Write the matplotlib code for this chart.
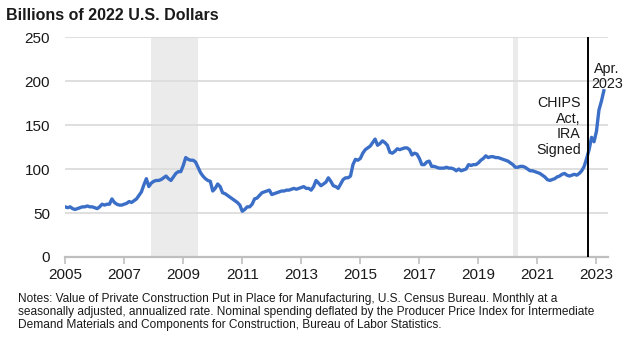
import matplotlib
matplotlib.use("Agg")
import matplotlib.pyplot as plt
import numpy as np

plt.rcParams['font.family'] = ['Liberation Sans', 'DejaVu Sans']

start_year = 2005
values = [
    # 2005
    57, 56, 57, 55, 54, 55, 56, 57, 57, 58, 57, 57,
    # 2006
    56, 55, 57, 60, 59, 60, 60, 66, 62, 60, 59, 59,
    # 2007
    60, 61, 63, 62, 64, 66, 70, 74, 82, 89, 80, 84,
    # 2008
    86, 87, 87, 88, 90, 92, 89, 87, 91, 95, 97, 97,
    # 2009
    104, 113, 111, 110, 110, 108, 102, 96, 92, 89, 87, 86,
    # 2010
    75, 78, 83, 80, 73, 72, 70, 68, 66, 64, 62, 59,
    # 2011
    52, 54, 57, 57, 60, 66, 67, 70, 73, 74, 75, 76,
    # 2012
    71, 72, 73, 74, 75, 75, 76, 76, 77, 78, 77, 78,
    # 2013
    79, 80, 78, 78, 76, 80, 87, 84, 81, 83, 85, 90,
    # 2014
    86, 81, 80, 78, 83, 88, 90, 90, 92, 105, 111, 110,
    # 2015
    112, 118, 122, 124, 126, 130, 134, 127, 129, 132, 130, 127,
    # 2016
    119, 118, 120, 123, 122, 123, 124, 124, 122, 116, 118, 117,
    # 2017
    112, 105, 105, 108, 109, 103, 103, 102, 101, 101, 101, 102,
    # 2018
    101, 101, 100, 98, 100, 98, 99, 100, 105, 104, 105, 105,
    # 2019
    107, 110, 112, 115, 113, 114, 114, 113, 113, 112, 111, 110,
    # 2020
    109, 107, 105, 102, 102, 103, 103, 102, 100, 98, 98, 97,
    # 2021
    96, 95, 93, 91, 88, 87, 88, 89, 91, 92, 94, 95,
    # 2022
    93, 92, 93, 94, 93, 95, 98, 103, 112, 122, 136, 131,
    # 2023
    143, 167, 177, 189,
]
recessions = [(2007.92, 2009.5), (2020.17, 2020.33)]
event_date = 2022.72
xticks = [2005, 2007, 2009, 2011, 2013, 2015, 2017, 2019, 2021, 2023]
yticks = [0, 50, 100, 150, 200, 250]

dates = start_year + np.arange(len(values)) / 12.0

fig = plt.figure(figsize=(6.39, 3.53), dpi=100)
ax = fig.add_axes([0.102, 0.272, 0.849, 0.623])

for a, b in recessions:
    ax.axvspan(a, b, color='#ebebeb', lw=0, zorder=0)

for y in yticks[1:]:
    ax.axhline(y, color='#dcdcdc', lw=1.3, zorder=1)

ax.plot(dates, values, color='#3b6fc7', lw=2.4, zorder=3, solid_joinstyle='round')
ax.axvline(event_date, color='black', lw=1.4, zorder=4)

ax.set_xlim(2005, 2023.38)
ax.set_ylim(0, 250)
ax.set_xticks(xticks)
ax.set_xticklabels([str(t) for t in xticks])
ax.set_yticks(yticks)
ax.set_yticklabels([str(t) for t in yticks])

for s in ['top', 'right', 'left']:
    ax.spines[s].set_visible(False)
ax.spines['bottom'].set_color('#bfbfbf')
ax.spines['bottom'].set_linewidth(1.6)
ax.tick_params(axis='x', length=5, width=1.2, color='#bfbfbf', labelsize=11, pad=3, labelcolor='#1a1a1a')
ax.tick_params(axis='y', length=0, labelsize=11, pad=11, labelcolor='#1a1a1a')

ax.text(2022.47, 148.5, 'CHIPS\nAct,\nIRA\nSigned', ha='right', va='center', fontsize=10.3,
        linespacing=1.15, color='#1a1a1a', zorder=5)
ax.text(2023.35, 205, 'Apr.\n2023', ha='center', va='center', fontsize=10.3,
        linespacing=1.1, color='#1a1a1a', zorder=5, clip_on=False)

fig.text(6/639, 1 - 16/353, 'Billions of 2022 U.S. Dollars', fontsize=11.5, fontweight='bold',
         ha='left', va='center', color='#1a1a1a')
fig.text(18/639, 1 - 312/353,
         'Notes: Value of Private Construction Put in Place for Manufacturing, U.S. Census Bureau. Monthly at a\n'
         'seasonally adjusted, annualized rate. Nominal spending deflated by the Producer Price Index for Intermediate\n'
         'Demand Materials and Components for Construction, Bureau of Labor Statistics.',
         fontsize=8.6, ha='left', va='center', linespacing=1.16, color='#1a1a1a')

fig.savefig('out.png', dpi=100)
